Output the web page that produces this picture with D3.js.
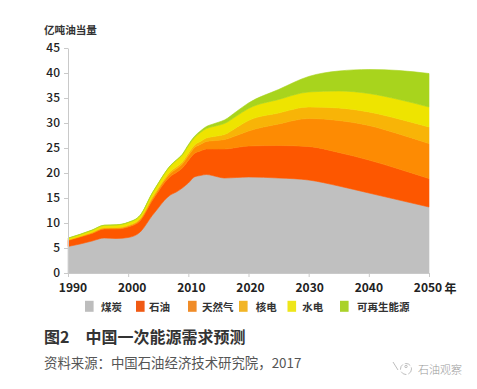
<!DOCTYPE html>
<html><head><meta charset="utf-8">
<script src="https://cdn.jsdelivr.net/npm/d3@7"></script>
<style>
html,body{margin:0;padding:0;background:#fff;}
svg{display:block;}
</style></head>
<body>
<svg id="chart" width="477" height="389"></svg>
<script>
// ---------- data ----------
const years   = [1990,1992,1994,1996,1998,2000,2002,2004,2005,2006,2007,2008,2009,2010,2011,2012,2013,2014,2015,2016,2018,2020,2025,2030,2035,2040,2045,2050];
const coal    = [5.3,5.8,6.4,7.0,6.9,7.1,8.2,11.5,13.0,14.5,15.6,16.2,17.0,18.0,19.2,19.5,19.7,19.5,19.2,19.0,19.1,19.2,19.0,18.6,17.4,16.0,14.6,13.2];
const oil     = [1.2,1.4,1.5,1.8,1.9,2.1,2.3,3.0,3.3,3.5,3.7,3.9,4.0,4.5,4.7,4.9,5.1,5.3,5.6,5.8,6.0,6.2,6.5,6.7,6.7,6.6,6.2,5.7];
const gas     = [0.13,0.14,0.15,0.17,0.19,0.22,0.26,0.35,0.4,0.5,0.6,0.7,0.8,0.95,1.15,1.3,1.5,1.65,1.75,1.9,2.4,3.0,4.3,5.6,6.4,6.9,7.0,7.0];
const nuclear = [0,0,0.1,0.1,0.1,0.12,0.15,0.3,0.3,0.3,0.4,0.4,0.4,0.5,0.5,0.6,0.7,0.8,0.9,1.0,1.6,2.1,2.2,2.3,2.5,2.7,3.0,3.3];
const hydro   = [0.3,0.35,0.4,0.45,0.5,0.55,0.6,0.8,0.9,1.0,1.1,1.3,1.4,1.5,1.5,1.8,1.9,2.0,2.1,2.2,2.3,2.4,2.7,3.0,3.4,3.7,3.9,4.0];
const renew   = [0.05,0.05,0.05,0.05,0.05,0.05,0.05,0.05,0.05,0.06,0.08,0.1,0.15,0.2,0.25,0.3,0.4,0.5,0.6,0.7,0.9,1.1,2.0,3.1,4.0,4.8,5.8,6.7];

const seriesNames = ["煤炭","石油","天然气","核电","水电","可再生能源"];
const seriesColors = ["#c0c0c0","#fd5700","#fd8b03","#f8b407","#eee400","#a8d41d"];
const legendColors = ["#bdbdbd","#f05a14","#f08c28","#f2b526","#eee61a","#aad22a"];
const yTicks = [0,5,10,15,20,25,30,35,40,45];
const xTicks = [1990,2000,2010,2020,2030,2040,2050];
const yTitle = "亿吨油当量";
const xUnit = "年";
const title = "图2　中国一次能源需求预测";
const source = "资料来源：中国石油经济技术研究院，2017";
const watermark = "石油观察";

// ---------- build table ----------
const valueArrays = [coal, oil, gas, nuclear, hydro, renew];
const table = years.map((yr, i) => {
  const row = {year: yr};
  seriesNames.forEach((n, k) => row[n] = valueArrays[k][i]);
  return row;
});

const svg = d3.select("#chart");
const CJK = "'Noto Sans CJK SC','Noto Sans',sans-serif";

const x = d3.scaleLinear().domain([1990, 2050]).range([68, 429]);
const y = d3.scaleLinear().domain([0, 45]).range([273, 48]);
// label placement scale (labels in the reference sit slightly right of early ticks)
const xLabel = d3.scaleLinear().domain([1990, 2050]).range([72.5, 427.5]);

const stack = d3.stack().keys(seriesNames);
const layers = stack(table);

const area = d3.area()
  .x(d => x(d.data.year))
  .y0(d => y(d[0]))
  .y1(d => y(d[1]))
  .curve(d3.curveMonotoneX);

svg.append("g").selectAll("path")
  .data(layers)
  .join("path")
  .attr("d", area)
  .attr("fill", (d, i) => seriesColors[i])
  .attr("stroke", (d, i) => seriesColors[i])
  .attr("stroke-width", 0.6);

// ---------- axes ----------
const yAxis = svg.append("g")
  .attr("transform", "translate(68,0)")
  .call(d3.axisLeft(y).tickValues(yTicks).tickSize(4).tickSizeOuter(0).tickPadding(4));
yAxis.select(".domain").attr("stroke", "#c9c9c9");
yAxis.selectAll(".tick line").attr("stroke", "#c9c9c9");
yAxis.selectAll(".tick text")
  .attr("fill", "#222").attr("font-size", 12).attr("font-weight", 500)
  .attr("font-family", CJK);

const xAxis = svg.append("g")
  .attr("transform", "translate(0,273)")
  .call(d3.axisBottom(x).tickValues(xTicks).tickFormat(d3.format("d")).tickSize(4).tickSizeOuter(0).tickPadding(6));
xAxis.select(".domain").attr("stroke", "#c9c9c9");
xAxis.selectAll(".tick line").attr("stroke", "#c9c9c9");
xAxis.selectAll(".tick text")
  .attr("x", d => xLabel(d) - x(d))
  .attr("fill", "#222").attr("font-size", 12).attr("font-weight", 600)
  .attr("font-family", CJK);

svg.append("text")
  .attr("x", 450.5).attr("y", 287.5)
  .attr("text-anchor", "middle").attr("dominant-baseline", "central")
  .attr("font-family", CJK).attr("font-size", 12).attr("font-weight", 700)
  .attr("fill", "#222").text(xUnit);

svg.append("text")
  .attr("x", 44).attr("y", 29.5)
  .attr("dominant-baseline", "central")
  .attr("font-family", CJK).attr("font-size", 10.6).attr("font-weight", 700)
  .attr("fill", "#333").text(yTitle);

// ---------- legend ----------
const legendSquareX = [85, 136, 188, 239, 287.5, 340];
const legendTextX = [101, 149, 202, 255.7, 302.3, 357];
const lg = svg.append("g");
seriesNames.forEach((n, i) => {
  lg.append("rect")
    .attr("x", legendSquareX[i]).attr("y", 300.8)
    .attr("width", 8.6).attr("height", 11)
    .attr("fill", legendColors[i]);
  lg.append("text")
    .attr("x", legendTextX[i]).attr("y", 306.3)
    .attr("dominant-baseline", "central")
    .attr("font-family", CJK).attr("font-size", 10.5).attr("font-weight", 700)
    .attr("fill", "#333").text(n);
});

// ---------- titles ----------
svg.append("text")
  .attr("x", 44).attr("y", 335.5)
  .attr("dominant-baseline", "central")
  .attr("font-family", CJK).attr("font-size", 16).attr("font-weight", 700)
  .attr("fill", "#333").text(title);

svg.append("text")
  .attr("x", 44).attr("y", 361.5)
  .attr("dominant-baseline", "central")
  .attr("font-family", CJK).attr("font-size", 13.4).attr("font-weight", 400)
  .attr("fill", "#555").text(source);

// ---------- watermark ----------
const wm = svg.append("g").attr("stroke", "#b5b5b5").attr("fill", "none").attr("stroke-width", 0.9);
wm.append("path").attr("d", "M393,362 L398,370");
wm.append("circle").attr("cx", 406).attr("cy", 369).attr("r", 5.5).attr("stroke-dasharray", "6,2");
wm.append("circle").attr("cx", 406).attr("cy", 366.5).attr("r", 1.2);
svg.append("text")
  .attr("x", 418).attr("y", 368.5)
  .attr("dominant-baseline", "central")
  .attr("font-family", CJK).attr("font-size", 11).attr("font-weight", 300)
  .attr("fill", "#9a9a9a").text(watermark);
</script>
</body></html>
